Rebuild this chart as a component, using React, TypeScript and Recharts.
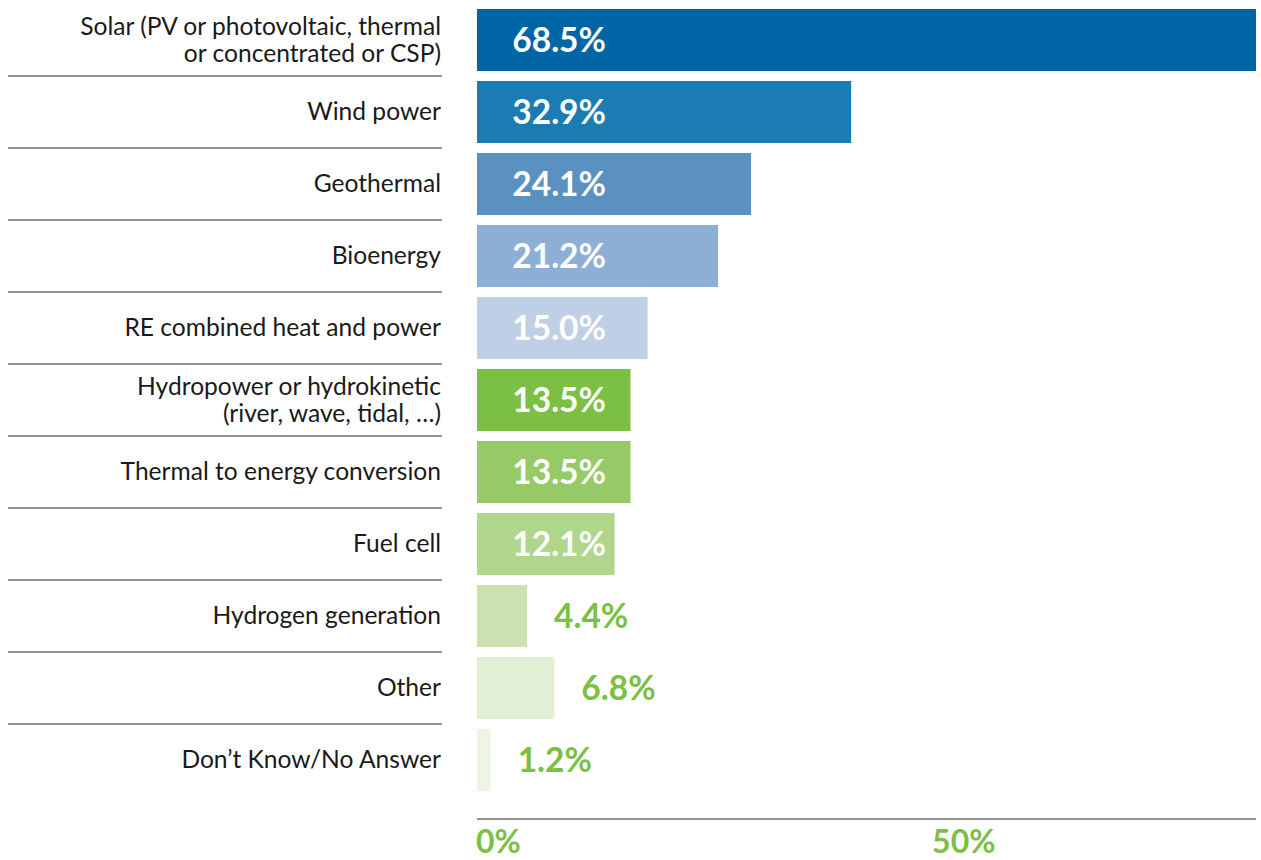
import React from 'react';
import { BarChart, Bar, XAxis, YAxis, Cell, LabelList } from 'recharts';

// Survey shares by renewable technology (percent)
const categories = [
  'Solar (PV or photovoltaic, thermal\nor concentrated or CSP)',
  'Wind power',
  'Geothermal',
  'Bioenergy',
  'RE combined heat and power',
  'Hydropower or hydrokinetic\n(river, wave, tidal, …)',
  'Thermal to energy conversion',
  'Fuel cell',
  'Hydrogen generation',
  'Other',
  'Don’t Know/No Answer',
];
const values = [68.5, 32.9, 24.1, 21.2, 15.0, 13.5, 13.5, 12.1, 4.4, 6.8, 1.2];
const barColors = [
  '#0065A4', '#1B7BB3', '#5A91C1', '#8DAFD5', '#BFD0E6',
  '#7BC043', '#95CA67', '#B0D58D', '#C9E2B0', '#E1EFD5', '#EEF5E6',
];
const axisTicks = [0, 50];

const GREEN = '#7BC043';
const FONT = 'Lato, "Noto Sans", sans-serif';
const ROW_HALF = 36;

const data = categories.map((name, i) => ({ name, value: values[i] }));

function CategoryTick(props: any) {
  const { x, y, payload, index } = props;
  const lines = String(payload.value).split('\n');
  const base = y + 8 - ((lines.length - 1) * 27) / 2;
  return (
    <g>
      <text textAnchor="end" fontFamily={FONT} fontSize={24.6} fill="#1a1a1a">
        {lines.map((l, i) => (
          <tspan key={i} x={x} y={base + i * 27}>
            {l}
          </tspan>
        ))}
      </text>
      {index < categories.length - 1 && (
        <line x1={8} x2={x + 1} y1={y + ROW_HALF} y2={y + ROW_HALF} stroke="#6f6f6f" strokeWidth={1.5} />
      )}
    </g>
  );
}

function PercentTick(props: any) {
  const { x, y, payload } = props;
  return (
    <text x={x - 1} y={y + 34} textAnchor="start" fontFamily={FONT} fontWeight={700} fontSize={32} fill={GREEN}>
      {payload.value}%
    </text>
  );
}

function ValueLabel(props: any) {
  const { x, y, width, height, value } = props;
  const inside = value >= 10;
  const ty = y + height / 2 + 12;
  return (
    <text
      x={inside ? x + 129 : x + width + 27}
      y={ty}
      textAnchor={inside ? 'end' : 'start'}
      fontFamily={FONT}
      fontWeight={700}
      fontSize={33.5}
      fill={inside ? '#ffffff' : GREEN}
    >
      {value.toFixed(1)}%
    </text>
  );
}

export default function App() {
  return (
    <div style={{ position: 'absolute', left: 0, top: 0 }}>
      <BarChart
        width={1261}
        height={860}
        data={data}
        layout="vertical"
        margin={{ top: 4, right: 5, bottom: 0, left: 0 }}
      >
        <XAxis xAxisId="bars" type="number" domain={[0, 68.5]} orientation="top" height={0} hide />
        <XAxis
          xAxisId="scale"
          type="number"
          domain={[0, 85.4]}
          ticks={axisTicks}
          height={41}
          axisLine={{ stroke: '#6f6f6f', strokeWidth: 1.5 }}
          tickLine={false}
          tickSize={0}
          tickMargin={0}
          tick={<PercentTick />}
          allowDataOverflow
        />
        <YAxis
          type="category"
          dataKey="name"
          width={477}
          axisLine={false}
          tickLine={false}
          tickSize={0}
          tickMargin={36}
          padding={{ top: 0, bottom: 23 }}
          tick={<CategoryTick />}
          interval={0}
        />
        <Bar xAxisId="bars" dataKey="value" barSize={62} isAnimationActive={false}>
          {data.map((d, i) => (
            <Cell key={d.name} fill={barColors[i]} />
          ))}
          <LabelList dataKey="value" content={<ValueLabel />} />
        </Bar>
      </BarChart>
    </div>
  );
}
